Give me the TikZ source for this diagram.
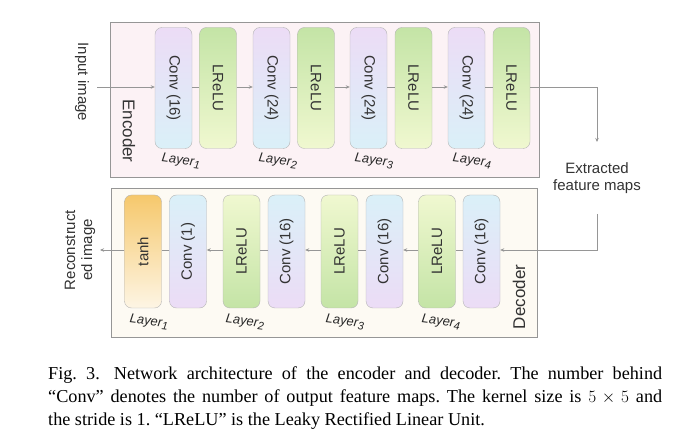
\documentclass[tikz,border=0pt]{standalone}
\usepackage{fontspec}
\setmainfont{Liberation Serif}
\newfontfamily\dsans{Liberation Sans}
\usetikzlibrary{arrows.meta}
\definecolor{encfill}{RGB}{252,242,245}
\definecolor{decfill}{RGB}{253,250,243}
\definecolor{cpurp}{RGB}{236,220,246}
\definecolor{ccyan}{RGB}{218,240,248}
\definecolor{lgreen}{RGB}{196,228,166}
\definecolor{lpale}{RGB}{240,248,208}
\definecolor{torange}{RGB}{246,200,108}
\definecolor{tpale}{RGB}{253,245,228}
\definecolor{lin}{RGB}{150,150,150}
\newcommand{\lyr}[1]{Layer\raisebox{-2.5pt}{\fontsize{11}{11}\selectfont #1}}
\tikzset{
 box/.style={draw=lin,line width=0.9pt,inner sep=0},
 blk/.style={draw=lin!70,rounded corners=7pt,minimum width=37pt,inner sep=0,font=\dsans\fontsize{15}{15}\selectfont,text=black!80},
 eblk/.style={blk,minimum height=121pt},
 dblk/.style={blk,minimum height=113pt},
 econv/.style={eblk,top color=cpurp,bottom color=ccyan},
 elr/.style={eblk,top color=lgreen,bottom color=lpale},
 dconv/.style={dblk,top color=ccyan,bottom color=cpurp},
 dlr/.style={dblk,top color=lpale,bottom color=lgreen},
 dtanh/.style={dblk,top color=torange,bottom color=tpale},
 lay/.style={font=\dsans\itshape\fontsize{13}{13}\selectfont,rotate=-7,text=black!85,inner sep=1pt},
 lab/.style={font=\dsans\fontsize{15}{17}\selectfont,text=black!80,align=center},
 con/.style={draw=lin,line width=0.8pt},
 arr/.style={con,-{Stealth[length=4pt,width=3.5pt]}},
}
\begin{document}
\begin{tikzpicture}[x=1pt,y=-1pt]
\useasboundingbox (0,0) rectangle (688,438);
\node[box,fill=encfill,minimum width=429pt,minimum height=155pt] (enc) at (324.5,99.5) {};
\node[box,fill=decfill,minimum width=426pt,minimum height=149pt] (dec) at (324,263) {};
% encoder
\node[econv] (e1c) at (173.5,88) {\rotatebox{-90}{Conv (16)}};
\node[elr] (e1l) at (218,88) {\rotatebox{-90}{LReLU}};
\node[econv] (e2c) at (271.5,88) {\rotatebox{-90}{Conv (24)}};
\node[elr] (e2l) at (316,88) {\rotatebox{-90}{LReLU}};
\node[econv] (e3c) at (368.5,88) {\rotatebox{-90}{Conv (24)}};
\node[elr] (e3l) at (413.5,88) {\rotatebox{-90}{LReLU}};
\node[econv] (e4c) at (466.5,88) {\rotatebox{-90}{Conv (24)}};
\node[elr] (e4l) at (511.5,88) {\rotatebox{-90}{LReLU}};
\node[lay] (el1) at (181,161) {\lyr{1}};
\node[lay] (el2) at (278,161) {\lyr{2}};
\node[lay] (el3) at (374,161) {\lyr{3}};
\node[lay] (el4) at (472,161) {\lyr{4}};
\node[lab,rotate=-90] (inp) at (82,82) {Input image};
\node[lab,rotate=-90,font=\dsans\fontsize{17}{17}\selectfont] (encl) at (129,131) {Encoder};
\coordinate (in0) at (97,87);
\draw[arr] (in0) -- (e1c.west|-in0);
\draw[con] (e1c.east|-in0) -- (e1l.west|-in0);
\draw[arr] (e1l.east|-in0) -- (e2c.west|-in0);
\draw[con] (e2c.east|-in0) -- (e2l.west|-in0);
\draw[arr] (e2l.east|-in0) -- (e3c.west|-in0);
\draw[con] (e3c.east|-in0) -- (e3l.west|-in0);
\draw[arr] (e3l.east|-in0) -- (e4c.west|-in0);
\draw[con] (e4c.east|-in0) -- (e4l.west|-in0);
\node[lab] (feat) at (597,178) {Extracted\\feature maps};
\coordinate (c1) at (597,87);
\coordinate (c2) at (597,142);
\coordinate (c3) at (597,214);
\draw[arr] (e4l.east|-in0) -- (c1) -- (c2);
% decoder
\node[dtanh] (d1t) at (143,251.5) {\rotatebox{90}{tanh}};
\node[dconv] (d1c) at (188,251.5) {\rotatebox{90}{Conv (1)}};
\node[dlr] (d2l) at (241.5,251.5) {\rotatebox{90}{LReLU}};
\node[dconv] (d2c) at (286.5,251.5) {\rotatebox{90}{Conv (16)}};
\node[dlr] (d3l) at (339.5,251.5) {\rotatebox{90}{LReLU}};
\node[dconv] (d3c) at (384.5,251.5) {\rotatebox{90}{Conv (16)}};
\node[dlr] (d4l) at (437,251.5) {\rotatebox{90}{LReLU}};
\node[dconv] (d4c) at (481.5,251.5) {\rotatebox{90}{Conv (16)}};
\node[lay] (dl1) at (149,322) {\lyr{1}};
\node[lay] (dl2) at (245,322) {\lyr{2}};
\node[lay] (dl3) at (345,322) {\lyr{3}};
\node[lay] (dl4) at (441,322) {\lyr{4}};
\node[lab,rotate=90,font=\dsans\fontsize{17}{17}\selectfont] (decl) at (519,297) {Decoder};
\node[lab,rotate=90] (rec) at (80,250) {Reconstruct\\ed image};
\coordinate (out0) at (100,250);
\draw[arr] (c3) |- (d4c.east|-out0);
\draw[con] (d4c.west|-out0) -- (d4l.east|-out0);
\draw[arr] (d4l.west|-out0) -- (d3c.east|-out0);
\draw[con] (d3c.west|-out0) -- (d3l.east|-out0);
\draw[arr] (d3l.west|-out0) -- (d2c.east|-out0);
\draw[con] (d2c.west|-out0) -- (d2l.east|-out0);
\draw[arr] (d2l.west|-out0) -- (d1c.east|-out0);
\draw[con] (d1c.west|-out0) -- (d1t.east|-out0);
\draw[arr] (d1t.west|-out0) -- (out0);
% caption
\node[anchor=north west,text width=614pt,align=justify,inner sep=0,font=\fontsize{18.2}{23}\selectfont\frenchspacing] (cap) at (48,366)
{Fig.~3.\hspace{14pt}Network architecture of the encoder and decoder. The number behind\linebreak ``Conv'' denotes the number of output feature maps. The kernel size is $5\times5$ and\linebreak the stride is 1. ``LReLU'' is the Leaky Rectified Linear Unit.};
\end{tikzpicture}
\end{document}
